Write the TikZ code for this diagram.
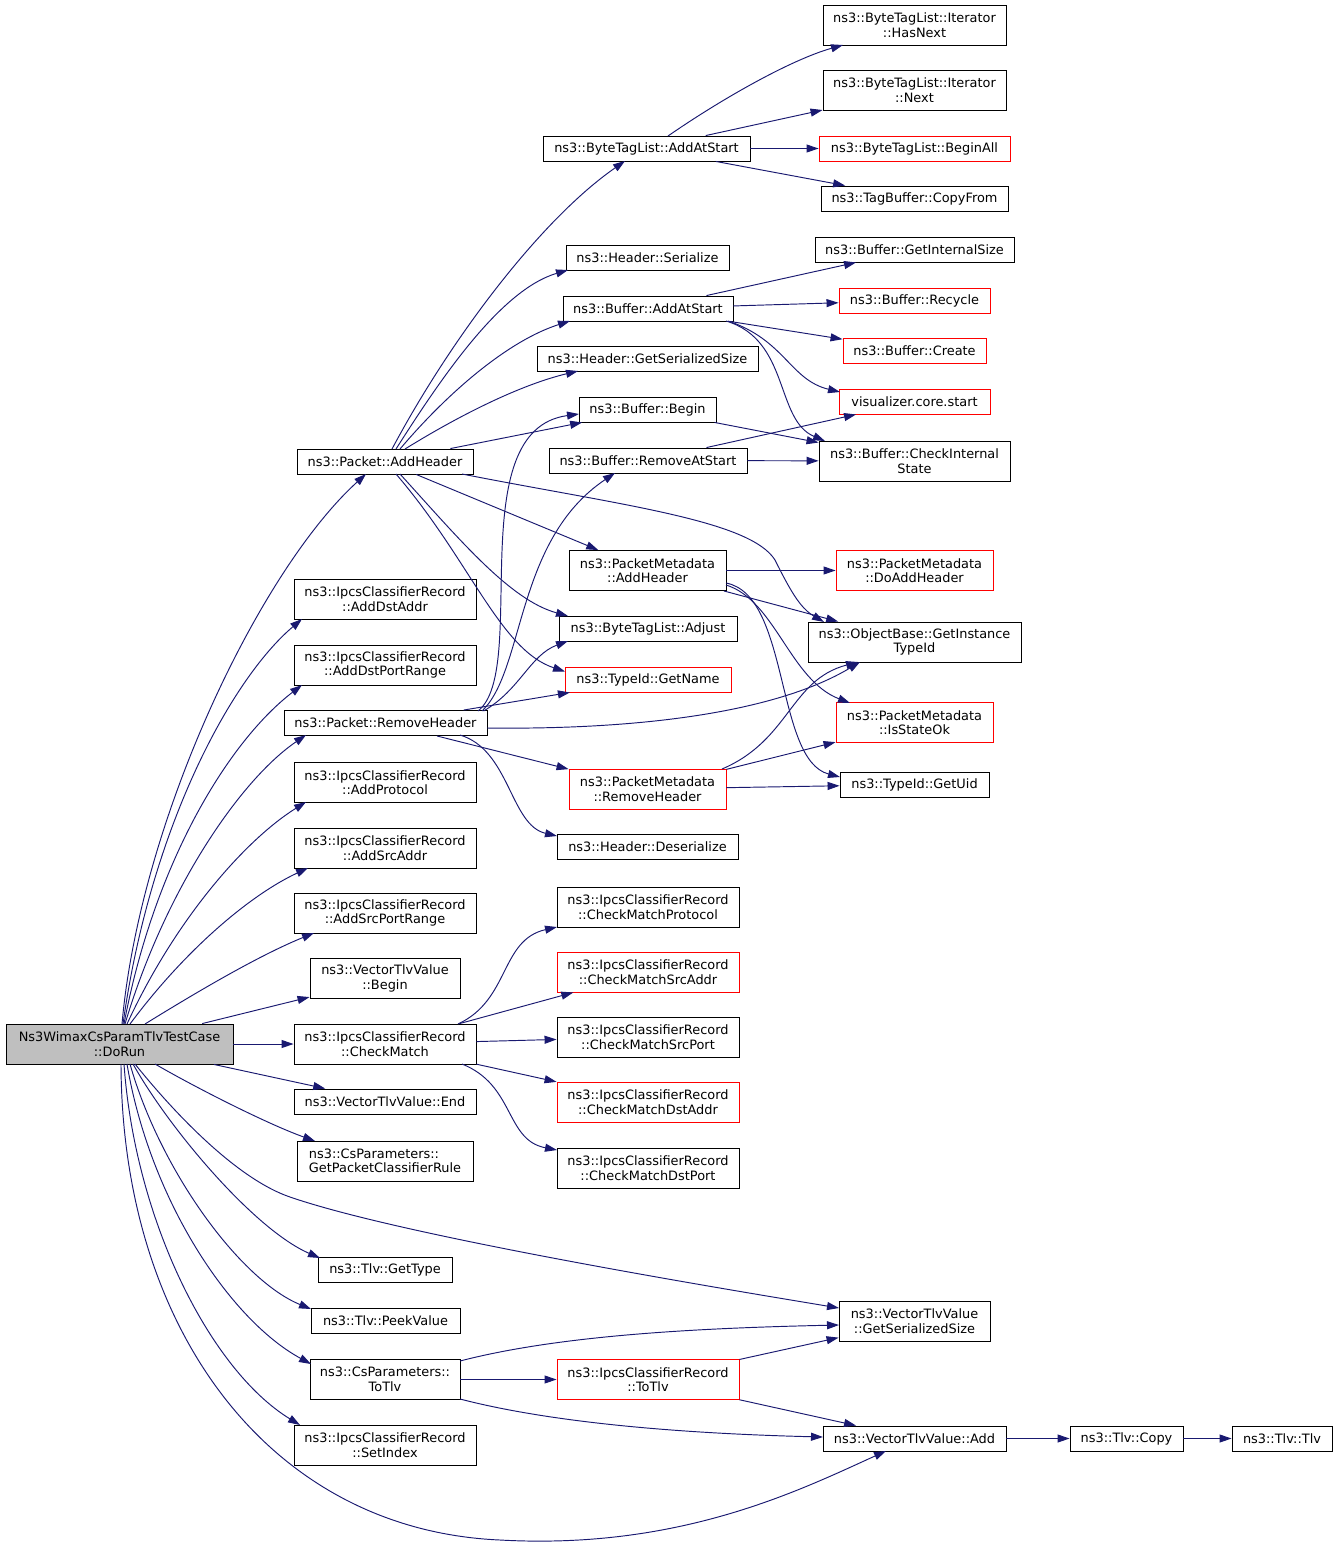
\documentclass[tikz,border=0pt]{standalone}
\usepackage{fontspec}
\setmainfont{DejaVu Sans}
\usetikzlibrary{arrows.meta,calc}
\definecolor{edgeblue}{HTML}{191970}
\definecolor{rootgray}{HTML}{BFBFBF}
\newcommand\nodefont{\fontsize{12.9}{14.5}\selectfont}
\tikzset{
  fnode/.style={draw=black, line width=0.9pt, fill=white, inner sep=0pt, align=center, font=\nodefont},
  rnode/.style={fnode, draw=red},
  rootnode/.style={fnode, fill=rootgray},
  one/.style={minimum height=25pt},
  two/.style={minimum height=40pt},
  call/.style={draw=edgeblue, line width=0.95pt, -{Triangle[length=12pt,width=8pt]}}
}
\begin{document}
\begin{tikzpicture}[x=1pt,y=-1pt]
\useasboundingbox (0,0) rectangle (1339,1547);
% ---- column 1
\node[rootnode,two,minimum width=227pt] (R) at (119.5,1044) {Ns3WimaxCsParamTlvTestCase\\::DoRun};
% ---- column 2
\node[fnode,one,minimum width=176pt] (AH) at (385,461.5) {ns3::Packet::AddHeader};
\node[fnode,two,minimum width=182pt] (ADA) at (385,599) {ns3::IpcsClassifierRecord\\::AddDstAddr};
\node[fnode,two,minimum width=182pt] (ADP) at (385,665) {ns3::IpcsClassifierRecord\\::AddDstPortRange};
\node[fnode,one,minimum width=203pt] (RH) at (385.5,723) {ns3::Packet::RemoveHeader};
\node[fnode,two,minimum width=182pt] (APR) at (385,782.5) {ns3::IpcsClassifierRecord\\::AddProtocol};
\node[fnode,two,minimum width=182pt] (ASA) at (385,848) {ns3::IpcsClassifierRecord\\::AddSrcAddr};
\node[fnode,two,minimum width=182pt] (ASP) at (385,913) {ns3::IpcsClassifierRecord\\::AddSrcPortRange};
\node[fnode,two,minimum width=150pt] (VB) at (385,978.5) {ns3::VectorTlvValue\\::Begin};
\node[fnode,two,minimum width=182pt] (CM) at (385,1044) {ns3::IpcsClassifierRecord\\::CheckMatch};
\node[fnode,one,minimum width=182pt] (VE) at (385,1101.5) {ns3::VectorTlvValue::End};
\node[fnode,two,minimum width=176pt,align=left] (GPC) at (385,1161) {ns3::CsParameters::\\GetPacketClassifierRule};
\node[fnode,one,minimum width=134pt] (GT) at (385,1270) {ns3::Tlv::GetType};
\node[fnode,one,minimum width=149pt] (PV) at (385.5,1320.5) {ns3::Tlv::PeekValue};
\node[fnode,two,minimum width=150pt] (CT) at (385,1379.5) {ns3::CsParameters::\\ToTlv};
\node[fnode,two,minimum width=182pt] (SI) at (385,1445) {ns3::IpcsClassifierRecord\\::SetIndex};
% ---- column 3
\node[fnode,one,minimum width=207pt] (BT) at (646.5,148.5) {ns3::ByteTagList::AddAtStart};
\node[fnode,one,minimum width=163pt] (HS) at (647.5,257.5) {ns3::Header::Serialize};
\node[fnode,one,minimum width=170pt] (BA) at (648,308.5) {ns3::Buffer::AddAtStart};
\node[fnode,one,minimum width=221pt] (HG) at (647.5,358.5) {ns3::Header::GetSerializedSize};
\node[fnode,one,minimum width=137pt] (BB) at (647.5,409.5) {ns3::Buffer::Begin};
\node[fnode,one,minimum width=198pt] (BR) at (648,460.5) {ns3::Buffer::RemoveAtStart};
\node[fnode,two,minimum width=157pt] (PA) at (647.5,570.5) {ns3::PacketMetadata\\::AddHeader};
\node[fnode,one,minimum width=178pt] (BJ) at (648,628.5) {ns3::ByteTagList::Adjust};
\node[rnode,one,minimum width=166pt] (GN) at (648,679.5) {ns3::TypeId::GetName};
\node[rnode,two,minimum width=157pt] (PR) at (647.5,789) {ns3::PacketMetadata\\::RemoveHeader};
\node[fnode,one,minimum width=181pt] (HD) at (647.5,846.5) {ns3::Header::Deserialize};
\node[fnode,two,minimum width=182pt] (MP) at (648,907) {ns3::IpcsClassifierRecord\\::CheckMatchProtocol};
\node[rnode,two,minimum width=182pt] (MSA) at (648,972) {ns3::IpcsClassifierRecord\\::CheckMatchSrcAddr};
\node[fnode,two,minimum width=182pt] (MSP) at (648,1037) {ns3::IpcsClassifierRecord\\::CheckMatchSrcPort};
\node[rnode,two,minimum width=182pt] (MDA) at (648,1102) {ns3::IpcsClassifierRecord\\::CheckMatchDstAddr};
\node[fnode,two,minimum width=182pt] (MDP) at (648,1168) {ns3::IpcsClassifierRecord\\::CheckMatchDstPort};
\node[rnode,two,minimum width=182pt] (IT) at (648,1379.5) {ns3::IpcsClassifierRecord\\::ToTlv};
% ---- column 4
\node[fnode,two,minimum width=183pt] (HN) at (914.5,25) {ns3::ByteTagList::Iterator\\::HasNext};
\node[fnode,two,minimum width=183pt] (NX) at (914.5,90) {ns3::ByteTagList::Iterator\\::Next};
\node[rnode,one,minimum width=191pt] (BGA) at (914.5,148.5) {ns3::ByteTagList::BeginAll};
\node[fnode,one,minimum width=187pt] (CF) at (914.5,198.5) {ns3::TagBuffer::CopyFrom};
\node[fnode,one,minimum width=199pt] (GIS) at (914.5,249.5) {ns3::Buffer::GetInternalSize};
\node[rnode,one,minimum width=151pt] (RC) at (914.5,300.5) {ns3::Buffer::Recycle};
\node[rnode,one,minimum width=143pt] (CR) at (914.5,350.5) {ns3::Buffer::Create};
\node[rnode,one,minimum width=151pt] (VZ) at (914.5,401.5) {visualizer.core.start};
\node[fnode,two,minimum width=191pt] (CI) at (914.5,461) {ns3::Buffer::CheckInternal\\State};
\node[rnode,two,minimum width=157pt] (DA) at (914.5,570.5) {ns3::PacketMetadata\\::DoAddHeader};
\node[fnode,two,minimum width=213pt] (GI) at (914.5,642) {ns3::ObjectBase::GetInstance\\TypeId};
\node[rnode,two,minimum width=157pt] (IS) at (914.5,722.5) {ns3::PacketMetadata\\::IsStateOk};
\node[fnode,one,minimum width=149pt] (GU) at (914.5,784.5) {ns3::TypeId::GetUid};
\node[fnode,two,minimum width=151pt] (GS) at (914.5,1321) {ns3::VectorTlvValue\\::GetSerializedSize};
\node[fnode,one,minimum width=183pt] (AD) at (914.5,1438.5) {ns3::VectorTlvValue::Add};
% ---- column 5,6
\node[fnode,one,minimum width=113pt] (TC) at (1126.5,1438.5) {ns3::Tlv::Copy};
\node[fnode,one,minimum width=100pt] (TT) at (1282,1438.5) {ns3::Tlv::Tlv};

% ===== edges from root
\draw[call] ($(R)+(2.5,-20)$) .. controls (140,820) and (260,570) .. ($(AH)+(-19,12.5)$);
\draw[call] ($(R)+(3.5,-20)$) .. controls (150,830) and (230,680) .. ($(ADA)+(-83,20)$);
\draw[call] ($(R)+(4.5,-20)$) .. controls (155,860) and (230,740) .. ($(ADP)+(-83,20)$);
\draw[call] ($(R)+(5.5,-20)$) .. controls (165,890) and (240,780) .. ($(RH)+(-79.5,12)$);
\draw[call] ($(R)+(7.5,-20)$) .. controls (175,920) and (245,840) .. ($(APR)+(-79,19.5)$);
\draw[call] ($(R)+(10.5,-20)$) .. controls (185,950) and (250,895) .. ($(ASA)+(-77,20)$);
\draw[call] ($(R)+(25.5,-20)$) .. controls (200,990) and (260,955) .. ($(ASP)+(-71,20)$);
\draw[call] (R) -- (VB);
\draw[call] (R) -- (CM);
\draw[call] (R) -- (VE);
\draw[call] ($(R)+(35.5,20)$) .. controls (200,1090) and (270,1125) .. ($(GPC)+(-70,-20)$);
\draw[call] ($(R)+(15.5,20)$) .. controls (180,1120) and (240,1180) .. (290,1197)
   .. controls (400,1235) and (700,1285) .. ($(GS)+(-75.5,-13)$);
\draw[call] ($(R)+(13.5,20)$) .. controls (170,1130) and (255,1230) .. ($(GT)+(-65,-12)$);
\draw[call] ($(R)+(10.5,20)$) .. controls (160,1170) and (240,1280) .. ($(PV)+(-74.5,-11.5)$);
\draw[call] ($(R)+(7.5,20)$) .. controls (150,1200) and (230,1320) .. ($(CT)+(-74,-15.5)$);
\draw[call] ($(R)+(4.5,20)$) .. controls (135,1220) and (210,1370) .. ($(SI)+(-85,-20)$);
\draw[call] ($(R)+(1.5,20)$) .. controls (122,1330) and (270,1530) .. (500,1540)
   .. controls (680,1550) and (800,1490) .. ($(AD)+(-28.5,12.5)$);

% ===== Packet::AddHeader
\draw[call] ($(AH)+(7,-12.5)$) .. controls (450,340) and (540,220) .. ($(BT)+(-21.5,12.5)$);
\draw[call] ($(AH)+(11,-12.5)$) .. controls (440,380) and (500,290) .. ($(HS)+(-79.5,12.5)$);
\draw[call] ($(AH)+(15,-12.5)$) .. controls (450,390) and (510,340) .. ($(BA)+(-78,12.5)$);
\draw[call] ($(AH)+(20,-12.5)$) .. controls (460,415) and (520,385) .. ($(HG)+(-69.5,12.5)$);
\draw[call] (AH) -- (BB);
\draw[call] (AH) -- (PA);
\draw[call] ($(AH)+(15,12.5)$) .. controls (460,540) and (510,600) .. ($(BJ)+(-80,-12.5)$);
\draw[call] ($(AH)+(11,12.5)$) .. controls (470,560) and (500,650) .. ($(GN)+(-83,-8)$);
\draw[call] ($(AH)+(77,12.5)$) .. controls (620,505) and (750,520) .. (775,560)
   .. controls (790,590) and (800,608) .. ($(GI)+(-90.5,-20)$);

% ===== Packet::RemoveHeader
\draw[call] ($(RH)+(92.5,-12)$) .. controls (530,670) and (460,430) .. ($(BB)+(-68.5,4.5)$);
\draw[call] ($(RH)+(96.5,-12)$) .. controls (525,670) and (515,540) .. ($(BR)+(-33,12.5)$);
\draw[call] ($(RH)+(98,-12)$) .. controls (520,690) and (530,655) .. ($(BJ)+(-80,12.5)$);
\draw[call] (RH) -- (GN);
\draw[call] ($(RH)+(101.5,5)$) .. controls (650,730) and (780,710) .. ($(GI)+(-54.5,20)$);
\draw[call] (RH) -- (PR);
\draw[call] ($(RH)+(74.5,12)$) .. controls (510,750) and (510,825) .. ($(HD)+(-90.5,-10.5)$);

% ===== ByteTagList::AddAtStart
\draw[call] ($(BT)+(21.5,-12.5)$) .. controls (720,100) and (790,60) .. ($(HN)+(-71.5,20)$);
\draw[call] (BT) -- (NX);
\draw[call] (BT) -- (BGA);
\draw[call] (BT) -- (CF);

% ===== Buffer::AddAtStart
\draw[call] (BA) -- (GIS);
\draw[call] (BA) -- (RC);
\draw[call] (BA) -- (CR);
\draw[call] ($(BA)+(80,12.5)$) .. controls (785,340) and (790,380) .. ($(VZ)+(-74.5,-9.5)$);
\draw[call] ($(BA)+(78,12.5)$) .. controls (790,340) and (775,420) .. ($(CI)+(-89.5,-20)$);

% ===== Buffer::Begin, RemoveAtStart
\draw[call] (BB) -- (CI);
\draw[call] (BR) -- (CI);
\draw[call] (BR) -- (VZ);

% ===== PacketMetadata::AddHeader
\draw[call] (PA) -- (DA);
\draw[call] (PA) -- (GI);
\draw[call] ($(PA)+(78.5,14.5)$) .. controls (775,600) and (790,680) .. ($(IS)+(-64.5,-19.5)$);
\draw[call] ($(PA)+(78.5,12.5)$) .. controls (790,595) and (775,760) .. ($(GU)+(-74.5,-7.5)$);

% ===== PacketMetadata::RemoveHeader
\draw[call] ($(PR)+(74.5,-20)$) .. controls (790,740) and (790,680) .. ($(GI)+(-56.5,20)$);
\draw[call] (PR) -- (IS);
\draw[call] (PR) -- (GU);

% ===== CheckMatch
\draw[call] ($(CM)+(73,-20)$) .. controls (510,1000) and (500,940) .. ($(MP)+(-91,20)$);
\draw[call] (CM) -- (MSA);
\draw[call] (CM) -- (MSP);
\draw[call] (CM) -- (MDA);
\draw[call] ($(CM)+(77,20)$) .. controls (515,1085) and (505,1140) .. ($(MDP)+(-91,-18)$);

% ===== CsParameters::ToTlv
\draw[call] ($(CT)+(75,-18.5)$) .. controls (560,1335) and (700,1328) .. ($(GS)+(-75.5,4)$);
\draw[call] (CT) -- (IT);
\draw[call] ($(CT)+(75,19.5)$) .. controls (560,1425) and (700,1434) .. ($(AD)+(-91.5,-1.5)$);

% ===== IpcsClassifierRecord::ToTlv
\draw[call] (IT) -- (GS);
\draw[call] (IT) -- (AD);

% ===== Add chain
\draw[call] (AD) -- (TC);
\draw[call] (TC) -- (TT);
\end{tikzpicture}
\end{document}
